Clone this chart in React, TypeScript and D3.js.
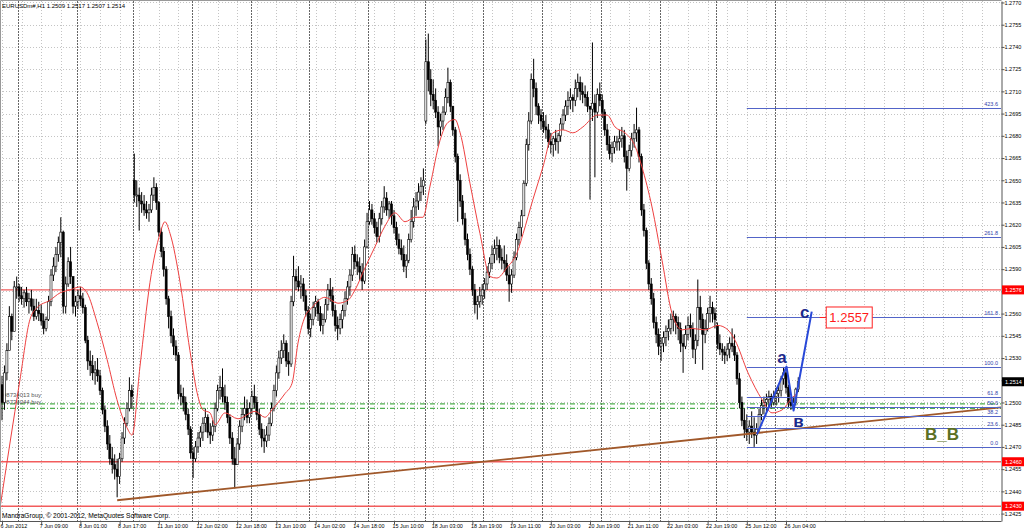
import React, { useRef, useEffect } from 'react';
import * as d3 from 'd3';

const W = 1024;
const H = 532;

// EURUSDm#, H1 candles, prices in pips above 1.2400.
// Open = previous close, except the bars listed in gapOpens (weekend opens).
const PIP_BASE = 1.24;
const highs = [
  118, 125, 140, 165, 160, 182, 185, 180, 178, 176, 178, 174, 176, 170, 170, 168, 166, 160, 158, 172,
  190, 198, 205, 212, 225, 216, 185, 198, 205, 185, 172, 176, 178, 174, 166, 145, 135, 132, 128, 130,
  122, 110, 98, 88, 78, 70, 65, 62, 66, 80, 90, 100, 117, 112, 268, 250, 245, 242, 240, 236,
  234, 245, 252, 248, 236, 218, 205, 192, 172, 162, 150, 142, 134, 112, 110, 104, 96, 84, 70, 74,
  80, 84, 90, 96, 92, 86, 88, 100, 112, 118, 123, 112, 104, 92, 80, 70, 76, 88, 96, 104,
  102, 100, 108, 112, 104, 96, 86, 82, 84, 90, 100, 112, 125, 135, 142, 146, 142, 134, 172, 199,
  190, 192, 186, 184, 176, 165, 160, 168, 172, 170, 165, 160, 170, 180, 184, 178, 166, 158, 160, 166,
  175, 182, 190, 205, 206, 200, 198, 194, 210, 228, 236, 234, 228, 222, 228, 236, 246, 242, 236, 236,
  230, 222, 214, 210, 206, 200, 214, 230, 238, 242, 248, 252, 258, 345, 349, 325, 318, 312, 300, 295,
  300, 312, 326, 318, 300, 286, 268, 254, 240, 228, 214, 204, 192, 180, 172, 178, 180, 184, 192, 198,
  206, 210, 212, 210, 204, 206, 200, 192, 190, 202, 214, 222, 230, 250, 278, 296, 322, 332, 316, 302,
  298, 296, 294, 288, 282, 280, 284, 282, 292, 298, 304, 310, 312, 308, 318, 322, 320, 316, 314, 310,
  300, 343, 308, 312, 316, 308, 298, 288, 280, 276, 280, 280, 284, 286, 284, 270, 274, 282, 288, 299,
  286, 268, 234, 218, 196, 184, 174, 158, 150, 144, 148, 152, 156, 160, 162, 160, 158, 154, 146, 152,
  158, 160, 154, 146, 183, 172, 160, 156, 164, 172, 168, 164, 154, 146, 140, 138, 140, 144, 150, 146,
  134, 120, 104, 96, 92, 88, 94, 90, 86, 96, 102, 104, 106, 108, 106, 108, 110, 112, 118, 124,
  122, 112, 104, 104, 110, 117,
];
const lows = [
  88, 95, 115, 135, 142, 148, 170, 168, 166, 164, 165, 160, 162, 155, 156, 155, 152, 146, 148, 155,
  165, 182, 188, 195, 198, 160, 160, 178, 180, 160, 158, 163, 165, 160, 140, 122, 118, 115, 112, 114,
  105, 92, 80, 68, 58, 52, 48, 36, 45, 60, 72, 84, 94, 96, 235, 232, 216, 228, 226, 224,
  222, 228, 236, 230, 212, 198, 185, 166, 150, 140, 132, 128, 102, 98, 94, 88, 78, 62, 49, 60,
  66, 70, 74, 80, 76, 72, 74, 80, 94, 102, 100, 95, 86, 72, 58, 42, 58, 68, 80, 88,
  86, 86, 92, 96, 88, 78, 70, 66, 70, 74, 84, 94, 104, 116, 126, 130, 124, 118, 124, 165,
  176, 175, 170, 168, 158, 146, 144, 152, 158, 155, 148, 146, 154, 162, 168, 158, 148, 142, 146, 150,
  158, 166, 172, 182, 190, 186, 182, 176, 180, 204, 220, 220, 214, 208, 208, 220, 228, 226, 224, 220,
  214, 206, 200, 196, 188, 184, 194, 208, 218, 226, 230, 236, 240, 288, 310, 300, 298, 292, 273, 280,
  284, 294, 302, 296, 280, 262, 222, 232, 220, 206, 196, 186, 172, 160, 156, 164, 166, 170, 176, 184,
  190, 194, 196, 194, 190, 188, 182, 168, 174, 184, 196, 206, 212, 226, 246, 270, 288, 306, 294, 288,
  284, 282, 278, 272, 268, 266, 270, 268, 276, 284, 290, 294, 298, 296, 300, 306, 304, 302, 300, 296,
  237, 290, 252, 292, 300, 292, 280, 270, 264, 262, 268, 270, 270, 272, 262, 243, 256, 266, 272, 276,
  262, 226, 212, 190, 176, 166, 150, 140, 132, 128, 134, 138, 142, 146, 148, 146, 142, 134, 120, 136,
  142, 144, 130, 126, 138, 150, 122, 140, 148, 154, 154, 150, 136, 132, 128, 126, 128, 130, 134, 128,
  112, 96, 84, 76, 74, 72, 76, 70, 72, 80, 88, 92, 94, 96, 96, 98, 98, 100, 104, 112,
  106, 96, 95, 96, 98, 107,
];
const closes = [
  100, 120, 135, 158, 148, 178, 178, 172, 170, 174, 168, 170, 165, 158, 162, 160, 155, 150, 156, 168,
  186, 192, 200, 208, 215, 165, 180, 195, 185, 165, 168, 172, 170, 164, 142, 128, 125, 120, 122, 118,
  108, 95, 84, 72, 62, 58, 55, 50, 62, 76, 86, 96, 108, 104, 240, 240, 236, 234, 230, 228,
  230, 240, 245, 235, 215, 202, 190, 170, 158, 145, 138, 132, 106, 104, 100, 92, 82, 66, 62, 70,
  76, 80, 86, 90, 80, 78, 84, 96, 108, 110, 104, 100, 90, 76, 62, 58, 72, 84, 92, 96,
  90, 96, 104, 100, 92, 82, 76, 74, 78, 86, 96, 108, 120, 130, 135, 140, 128, 126, 168, 185,
  182, 178, 180, 172, 162, 150, 156, 164, 168, 160, 152, 156, 166, 176, 172, 162, 152, 150, 156, 162,
  170, 178, 186, 200, 195, 192, 188, 182, 205, 222, 230, 224, 218, 212, 224, 232, 238, 230, 234, 226,
  218, 210, 204, 200, 192, 196, 210, 222, 232, 236, 242, 246, 250, 330, 318, 308, 304, 296, 286, 290,
  296, 306, 316, 300, 284, 266, 250, 236, 224, 210, 200, 190, 176, 166, 168, 172, 176, 180, 188, 194,
  200, 204, 206, 198, 196, 194, 186, 180, 186, 198, 210, 218, 226, 248, 274, 290, 318, 312, 300, 294,
  290, 286, 284, 276, 274, 278, 276, 280, 288, 294, 300, 304, 306, 304, 312, 316, 310, 308, 306, 300,
  298, 302, 296, 308, 304, 296, 284, 274, 268, 272, 276, 276, 278, 280, 266, 258, 270, 278, 282, 284,
  266, 230, 216, 194, 180, 170, 154, 146, 138, 140, 144, 148, 150, 156, 158, 154, 150, 140, 138, 146,
  152, 150, 136, 142, 164, 156, 146, 150, 160, 164, 160, 156, 140, 136, 134, 132, 136, 140, 138, 132,
  116, 100, 88, 82, 80, 84, 80, 78, 82, 92, 98, 100, 102, 104, 100, 104, 106, 108, 116, 120,
  110, 100, 98, 100, 109, 114,
];
const gapOpens: [number, number][] = [[0, 112], [54, 250], [173, 290], [292, 152]];

// red moving average, [bar, pips]
const maPoints: [number, number][] = [
  [-0.8, 29], [7.3, 115], [11.4, 156], [14.3, 164], [19.6, 169], [23.7, 174], [27.8, 176], [31.8, 178],
  [34.7, 174], [38.8, 154], [42.9, 129], [46.9, 102], [51, 83], [53.1, 78], [56.3, 124], [60.4, 181],
  [64.5, 214], [66.5, 222], [68.6, 214], [72.7, 181], [76.7, 135], [80, 104], [82, 95], [84.9, 93],
  [87, 85], [91, 93], [96.3, 89], [103.3, 94], [107.3, 90], [110.2, 95], [115.5, 106], [118.4, 113],
  [120.8, 140], [123.7, 158], [126.5, 164], [131.8, 171], [137.1, 167], [141.2, 169], [144.1, 176],
  [148.2, 191], [152.2, 205], [156.3, 219], [160.4, 228], [164.5, 222], [168.6, 225], [171.8, 225],
  [174.7, 246], [178.8, 277], [182, 289], [184.9, 291], [187, 282], [191, 248], [195.1, 214],
  [199.2, 185], [202, 184], [206.1, 191], [210.2, 201], [212.7, 214], [216.7, 237], [220.8, 259],
  [224.9, 282], [229, 284], [233, 282], [237.1, 286], [242.9, 294], [247, 294], [250.2, 286],
  [254.3, 282], [258.4, 273], [261.2, 259], [265.3, 232], [269.4, 196], [273.5, 160], [277.6, 149],
  [281.6, 150], [286.9, 149], [292.2, 152], [296.3, 149], [299.2, 142], [304.5, 120], [310.2, 102],
  [314.3, 93], [318.4, 95], [322.4, 103], [324.5, 106],
];

const timeLabels = [
  '6 Jun 2012', '7 Jun 09:00', '8 Jun 01:00', '8 Jun 17:00', '11 Jun 10:00', '12 Jun 02:00',
  '12 Jun 18:00', '13 Jun 10:00', '14 Jun 02:00', '14 Jun 18:00', '15 Jun 10:00', '18 Jun 03:00',
  '18 Jun 19:00', '19 Jun 11:00', '20 Jun 03:00', '20 Jun 19:00', '21 Jun 11:00', '22 Jun 03:00',
  '22 Jun 19:00', '25 Jun 12:00', '26 Jun 04:00',
];
const labelEvery = 16; // bars between time labels
const daySeparators = [7, 31, 54, 78, 102, 126, 150, 173, 197, 221, 245, 269, 292, 316];
const priceTicks = [
  1.2770, 1.2755, 1.2740, 1.2725, 1.2710, 1.2695, 1.2680, 1.2665, 1.2650, 1.2635, 1.2620, 1.2605,
  1.2590, 1.2575, 1.2560, 1.2545, 1.2530, 1.2515, 1.2500, 1.2485, 1.2470, 1.2455, 1.2440, 1.2425,
];

const redLevels = [1.2576, 1.2460, 1.2430];
const orderLevels = [1.2499, 1.2496];
const orderLabels = ['#8734013 buy', '#8734044 buy'];
const trendAnchors: [number, number][] = [[47, 1.2434], [300, 1.2478]];

const fibLow = 1.2470;
const fibHigh = 1.2524;
const fibStartBar = 304;
const fibLevels = [0, 23.6, 38.2, 50, 61.8, 100, 161.8, 261.8, 423.6];
const targetLevel = 161.8;

const wave: [number, number][] = [[308.2, 1.24787], [320.2, 1.25242], [323.1, 1.24946], [330.5, 1.25613]];
const waveLabels = ['', 'a', 'в', 'c'];

const FONT = 'Liberation Sans, Arial, sans-serif';

export default function App() {
  const svgRef = useRef<SVGSVGElement>(null);

  useEffect(() => {
    if (!svgRef.current) return;
    const svg = d3.select(svgRef.current);
    svg.selectAll('*').remove();

    const right = 1001;
    const top = 1;
    const bottom = 521;

    const x = d3.scaleLinear().domain([0, 408]).range([2, 1001.6]);
    const y = d3.scaleLinear().domain([1.2420, 1.2771]).range([bottom, top]);
    const px = (p: number) => PIP_BASE + p / 10000;
    const snap = (v: number) => Math.round(v) + 0.5;

    svg.append('rect').attr('width', W).attr('height', H).attr('fill', '#fff');

    svg.append('defs').append('clipPath').attr('id', 'plotClip')
      .append('rect').attr('x', 0).attr('y', 0).attr('width', right).attr('height', bottom);

    const plot = svg.append('g').attr('clip-path', 'url(#plotClip)');

    // grid
    plot.append('g').selectAll('line').data(priceTicks).join('line')
      .attr('x1', 0).attr('x2', right)
      .attr('y1', d => snap(y(d))).attr('y2', d => snap(y(d)))
      .attr('stroke', '#c4c4c4').attr('stroke-dasharray', '1,2');
    plot.append('g').selectAll('line').data(d3.range(0, 409, labelEvery / 2)).join('line')
      .attr('x1', d => snap(x(d))).attr('x2', d => snap(x(d)))
      .attr('y1', top).attr('y2', bottom)
      .attr('stroke', '#c4c4c4').attr('stroke-dasharray', '1,2');
    plot.append('g').selectAll('line').data(daySeparators).join('line')
      .attr('x1', d => snap(x(d - 0.5))).attr('x2', d => snap(x(d - 0.5)))
      .attr('y1', top).attr('y2', bottom)
      .attr('stroke', '#666').attr('stroke-dasharray', '2,1');

    // horizontal levels
    plot.append('g').selectAll('line').data(redLevels).join('line')
      .attr('x1', 0).attr('x2', right)
      .attr('y1', d => y(d)).attr('y2', d => y(d))
      .attr('stroke', '#f25c5c').attr('stroke-width', 1.4);
    plot.append('g').selectAll('line').data(orderLevels).join('line')
      .attr('x1', 0).attr('x2', right)
      .attr('y1', d => y(d)).attr('y2', d => y(d))
      .attr('stroke', '#4fae4f').attr('stroke-width', 1.2).attr('stroke-dasharray', '5,2,1,2');
    plot.append('g').selectAll('text').data(orderLevels).join('text')
      .attr('x', 3).attr('y', (d, i) => y(d) - (i === 0 ? 6.5 : 4.5))
      .attr('font-family', FONT).attr('font-size', 6).attr('fill', '#555')
      .text((d, i) => orderLabels[i]);

    // candles
    const bars = closes.map((c, i) => {
      const gap = gapOpens.find(g => g[0] === i);
      const o = gap ? gap[1] : closes[i - 1];
      return {
        i,
        o: px(o),
        c: px(c),
        h: px(Math.max(highs[i], o, c)),
        l: px(Math.min(lows[i], o, c)),
      };
    });
    const cg = plot.append('g');
    cg.selectAll('line').data(bars).join('line')
      .attr('x1', d => x(d.i)).attr('x2', d => x(d.i))
      .attr('y1', d => y(d.h)).attr('y2', d => y(d.l))
      .attr('stroke', '#000').attr('stroke-width', 1);
    cg.selectAll('rect').data(bars).join('rect')
      .attr('x', d => x(d.i) - 1)
      .attr('width', 2)
      .attr('y', d => y(Math.max(d.o, d.c)))
      .attr('height', d => Math.max(1, Math.abs(y(d.o) - y(d.c))))
      .attr('fill', d => (d.c >= d.o ? '#fff' : '#000'))
      .attr('stroke', '#000').attr('stroke-width', 0.6);

    // moving average
    const maLine = d3.line<[number, number]>()
      .x(d => x(d[0])).y(d => y(px(d[1])))
      .curve(d3.curveMonotoneX);
    plot.append('path').datum(maPoints)
      .attr('d', maLine).attr('fill', 'none')
      .attr('stroke', '#ee4040').attr('stroke-width', 1);

    // trend ray
    const [t0, t1] = trendAnchors;
    const slope = (t1[1] - t0[1]) / (t1[0] - t0[0]);
    const endBar = 408;
    plot.append('line')
      .attr('x1', x(t0[0])).attr('y1', y(t0[1]))
      .attr('x2', x(endBar)).attr('y2', y(t0[1] + slope * (endBar - t0[0])))
      .attr('stroke', '#a0582a').attr('stroke-width', 1.8);

    // fibonacci expansion
    const fibPrice = (lv: number) => fibLow + ((fibHigh - fibLow) * lv) / 100;
    plot.append('g').selectAll('line').data(fibLevels).join('line')
      .attr('x1', x(fibStartBar)).attr('x2', right)
      .attr('y1', d => snap(y(fibPrice(d)))).attr('y2', d => snap(y(fibPrice(d))))
      .attr('stroke', '#5264c8').attr('stroke-width', 1);
    plot.append('g').selectAll('text').data(fibLevels).join('text')
      .attr('x', right - 3).attr('y', d => y(fibPrice(d)) - 2)
      .attr('text-anchor', 'end')
      .attr('font-family', FONT).attr('font-size', 5.5).attr('fill', '#3344aa')
      .text(d => d.toFixed(1));

    // wave a-b-c
    const waveLine = d3.line<[number, number]>().x(d => x(d[0])).y(d => y(d[1]));
    plot.append('path').datum(wave)
      .attr('d', waveLine).attr('fill', 'none')
      .attr('stroke', '#2848d8').attr('stroke-width', 2).attr('stroke-linejoin', 'round');
    const labelOffsets: [number, number][] = [[0, 0], [-4.5, -3.5], [5, 16.5], [-7, 6.5]];
    plot.append('g').selectAll('text').data(wave).join('text')
      .attr('x', (d, i) => x(d[0]) + labelOffsets[i][0])
      .attr('y', (d, i) => y(d[1]) + labelOffsets[i][1])
      .attr('text-anchor', 'middle')
      .attr('font-family', FONT).attr('font-size', 17).attr('font-weight', 'bold')
      .attr('fill', '#1c2a8c')
      .text((d, i) => waveLabels[i]);

    // target price label
    const tp = fibPrice(targetLevel);
    const tx = x(wave[3][0]) + 14;
    const ty = y(tp);
    plot.append('line')
      .attr('x1', tx - 6).attr('x2', tx).attr('y1', ty).attr('y2', ty)
      .attr('stroke', '#ff2020').attr('stroke-width', 1);
    plot.append('rect')
      .attr('x', tx + 0.5).attr('y', ty - 10.5).attr('width', 46).attr('height', 21)
      .attr('fill', '#fff').attr('stroke', '#ff2020').attr('stroke-width', 1);
    plot.append('text')
      .attr('x', tx + 23.5).attr('y', ty + 5)
      .attr('text-anchor', 'middle')
      .attr('font-family', FONT).attr('font-size', 13).attr('fill', '#ff1a1a')
      .text(tp.toFixed(4));

    plot.append('text')
      .attr('x', 925).attr('y', y(fibPrice(0)) - 7)
      .attr('font-family', FONT).attr('font-size', 17).attr('font-weight', 'bold')
      .attr('fill', '#5b7023')
      .text('B_B');

    // texts
    const last = bars[bars.length - 1];
    svg.append('text')
      .attr('x', 2).attr('y', 8)
      .attr('font-family', FONT).attr('font-size', 6).attr('fill', '#000')
      .text(`EURUSDm#,H1 ${last.o.toFixed(4)} ${last.h.toFixed(4)} ${last.l.toFixed(4)} ${last.c.toFixed(4)}`);
    svg.append('text')
      .attr('x', 2).attr('y', 517.5)
      .attr('font-family', FONT).attr('font-size', 6.6).attr('fill', '#000')
      .text('MandraGroup, © 2001-2012, MetaQuotes Software Corp.');

    // frame
    svg.append('path')
      .attr('d', `M0.5,${bottom}V0.5H${right + 0.5}`)
      .attr('fill', 'none').attr('stroke', '#999');
    svg.append('line')
      .attr('x1', 0).attr('x2', right + 0.5).attr('y1', bottom + 0.5).attr('y2', bottom + 0.5)
      .attr('stroke', '#555');

    // price axis
    const yAxis = svg.append('g')
      .attr('transform', `translate(${right + 0.5},0)`)
      .call(d3.axisRight(y).tickValues(priceTicks).tickSize(3).tickSizeOuter(0).tickFormat(d => (+d).toFixed(4)));
    yAxis.select('.domain').attr('stroke', '#555');
    yAxis.selectAll('.tick line').attr('stroke', '#555');
    yAxis.selectAll('.tick text')
      .attr('x', 3).attr('font-family', FONT).attr('font-size', 5.5).attr('fill', '#000');

    // time axis
    const labelBars = timeLabels.map((_, i) => i * labelEvery);
    const xAxis = svg.append('g')
      .attr('transform', `translate(0,${bottom + 0.5})`)
      .call(d3.axisBottom(x).tickValues(labelBars).tickSize(3).tickSizeOuter(0)
        .tickFormat((d, i) => timeLabels[i]));
    xAxis.select('.domain').remove();
    xAxis.selectAll('.tick line').attr('stroke', '#555');
    xAxis.selectAll('.tick text')
      .attr('text-anchor', 'start').attr('dx', -2).attr('y', 3).attr('dy', '0.71em')
      .attr('font-family', FONT).attr('font-size', 5.4).attr('fill', '#000');

    // price boxes
    const boxes = [
      ...redLevels.map(p => ({ p, fill: '#ff0000' })),
      { p: last.c, fill: '#000' },
    ];
    const bg = svg.append('g');
    bg.selectAll('rect').data(boxes).join('rect')
      .attr('x', right + 1).attr('y', d => y(d.p) - 4.5).attr('width', W - right - 1).attr('height', 9)
      .attr('fill', d => d.fill);
    bg.selectAll('text').data(boxes).join('text')
      .attr('x', right + 4).attr('y', d => y(d.p) + 2)
      .attr('font-family', FONT).attr('font-size', 5.5).attr('fill', '#fff')
      .text(d => d.p.toFixed(4));
  }, []);

  return (
    <svg
      ref={svgRef}
      width={W}
      height={H}
      style={{ position: 'absolute', left: 0, top: 0, display: 'block' }}
    />
  );
}
